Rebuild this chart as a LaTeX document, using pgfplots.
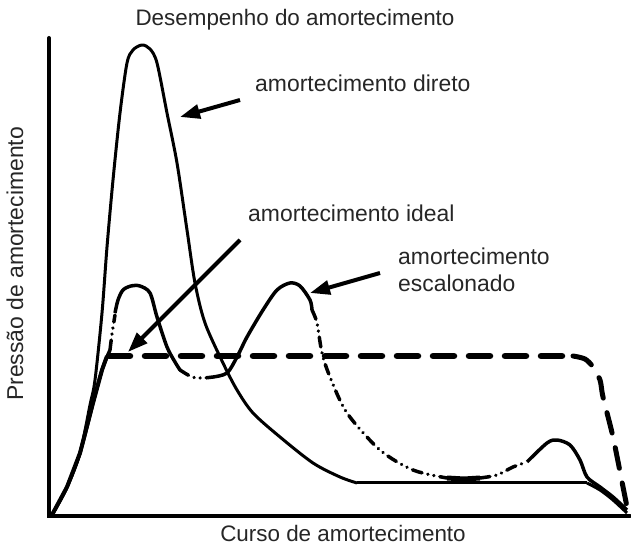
\documentclass[border=0pt]{standalone}
\usepackage{pgfplots}
\pgfplotsset{compat=1.18}
\usepackage{fontspec}
\setmainfont{Liberation Sans}
\usetikzlibrary{arrows.meta}

\begin{document}
\begin{tikzpicture}
\begin{axis}[
    scale only axis,
    width=581bp, height=478bp,
    xmin=0, xmax=581, ymin=0, ymax=478,
    hide axis,
    clip=false,
    every axis plot/.append style={line join=round},
]
% spines
\draw[line width=4bp, line cap=round] (axis cs:0,478) -- (axis cs:0,0) -- (axis cs:581,0);

% amortecimento direto
\addplot[black, line width=3bp, smooth] coordinates {
    (0,0)(4,3)(18,29)(31,63)(41,111)(46,136)(53,203)(58,269)(64,336)(71,403)
    (78,453)(84,466)(93,471)(101,467)(108,453)(118,403)(128,353)(138,286)
    (146,233)(156,193)(174,153)(188,126)(204,103)(231,79)(264,53)(291,39)(308,33)
};
\addplot[black, line width=3bp] coordinates {(308,33)(538,33)};
\addplot[black, line width=3bp, smooth] coordinates {(538,33)(551,26)(564,16)(578,3)};

% amortecimento ideal
\addplot[black, line width=4bp] coordinates {
    (0,0)(4,3)(18,29)(31,63)(44,113)(53,146)(58,160)
};
\addplot[black, line width=6.5bp, line cap=round, dash pattern=on 21bp off 15bp] coordinates {
    (60,160)(524,160)
};
\addplot[black, line width=5bp, line cap=round, dash pattern=on 21bp off 15bp, smooth] coordinates {
    (524,160)(536,157)(544,149)(551,136)(554,119)(564,79)(574,29)(579,4)
};

% amortecimento escalonado
\pgfplotsset{ddot/.style={black, line width=3.5bp, line cap=round, smooth,
    dash pattern=on 10bp off 6bp on 0.1bp off 6bp on 0.1bp off 6bp}}
\addplot[black, line width=3.5bp, smooth] coordinates {(0,0)(4,3)(18,29)(31,63)(44,113)(53,146)(61,166)};
\addplot[ddot] coordinates {(61,166)(63,182)(66,201)};
\addplot[black, line width=3.5bp, smooth] coordinates {
    (66,203)(69,216)(74,226)(82,230)(91,230)(101,223)(108,199)(118,169)(126,154)(131,146)
};
\addplot[ddot] coordinates {(131,146)(143,139)(154,138)(164,139)};
\addplot[black, line width=3.5bp, smooth] coordinates {
    (164,139)(178,143)(188,159)(198,179)(214,206)(228,226)(241,233)(251,230)(261,216)(263,206)
};
\addplot[ddot] coordinates {
    (263,206)(268,193)(273,163)(281,139)(298,103)(331,66)(364,46)(398,38)
};
\addplot[black, line width=5bp] coordinates {(398,38)(415,37)(431,38)};
\addplot[ddot] coordinates {(431,38)(448,41)(464,49)(478,54)};
\addplot[black, line width=3.5bp, smooth] coordinates {
    (478,54)(498,73)(508,76)(521,71)(531,56)(538,39)(551,29)(564,19)(578,6)
};

% anotacoes
\tikzset{seta/.style={line width=4bp, -{Triangle[length=20bp,width=14bp]}}}
\draw[seta] (axis cs:191,416) -- (axis cs:131,399);
\draw[seta] (axis cs:191,276) -- (axis cs:79,164);
\draw[seta] (axis cs:331,243) -- (axis cs:261,223);

\tikzset{lbl/.style={font=\fontsize{23}{27}\selectfont, text=black!85, inner sep=0pt}}
\node[lbl, anchor=west] at (axis cs:206,433) {amortecimento direto};
\node[lbl, anchor=west] at (axis cs:199,303) {amortecimento ideal};
\node[lbl, anchor=west, align=left] at (axis cs:349,246) {amortecimento\\escalonado};

\node[lbl, font=\fontsize{22.5}{27}\selectfont] at (axis cs:246,496) {Desempenho do amortecimento};
\node[lbl, font=\fontsize{22.5}{27}\selectfont] at (axis cs:294,-17) {Curso de amortecimento};
\node[lbl, rotate=90] at (axis cs:-34,252) {Pressão de amortecimento};

\coordinate (bl) at (axis cs:-49,-30);
\coordinate (tr) at (axis cs:582,516);
\end{axis}
\pgfresetboundingbox
\path[use as bounding box] (bl) rectangle (tr);
\end{tikzpicture}
\end{document}
